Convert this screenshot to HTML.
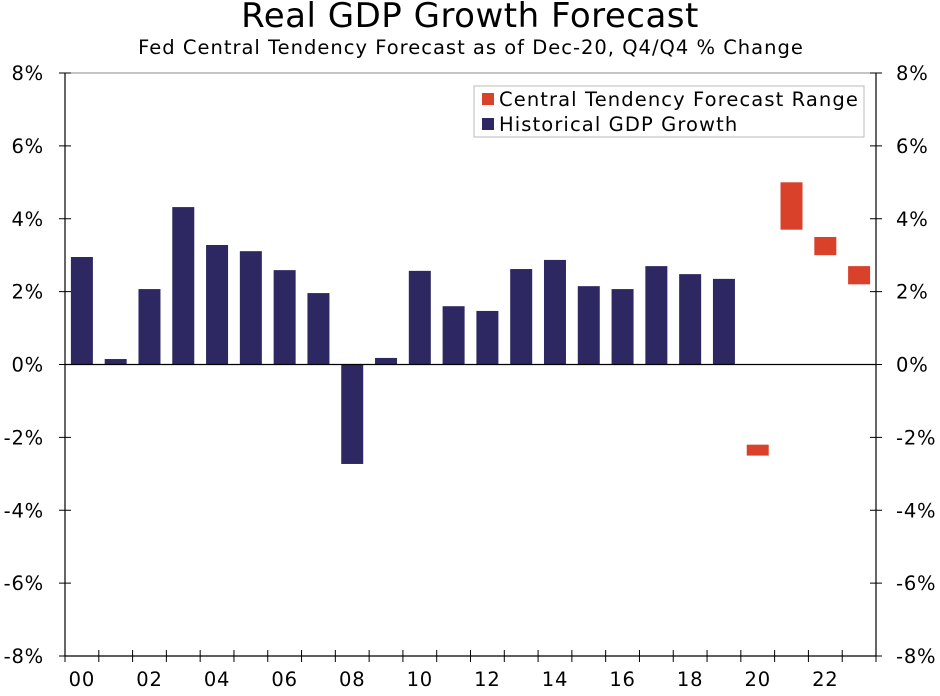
<!DOCTYPE html>
<html><head><meta charset="utf-8"><style>
body{margin:0;background:#fff;font-family:"DejaVu Sans","Liberation Sans",sans-serif;}
svg text{font-family:"DejaVu Sans","Liberation Sans",sans-serif;fill:#000;}
</style></head><body>
<svg id="chart" width="940" height="692" xmlns="http://www.w3.org/2000/svg">
<text x="470" y="27" font-size="34" letter-spacing="0.5" text-anchor="middle">Real GDP Growth Forecast</text>
<text x="471" y="54" font-size="19.5" letter-spacing="1" text-anchor="middle">Fed Central Tendency Forecast as of Dec-20, Q4/Q4 % Change</text>
<g id="plot"></g>
<g>
<rect x="474" y="86" width="390" height="51" fill="#fff" stroke="#bbb"/>
<rect x="482" y="93" width="12" height="12" fill="#d9412b"/>
<text x="499" y="106" font-size="19.5" letter-spacing="1.1">Central Tendency Forecast Range</text>
<rect x="482" y="118" width="12" height="12" fill="#2e2862"/>
<text x="499" y="131" font-size="19.5" letter-spacing="1.1">Historical GDP Growth</text>
</g>
</svg>
<script>
const years=[2000,2001,2002,2003,2004,2005,2006,2007,2008,2009,2010,2011,2012,2013,2014,2015,2016,2017,2018,2019,2020,2021,2022,2023];
const histValues=[2.95,0.15,2.07,4.32,3.28,3.11,2.59,1.96,-2.73,0.18,2.57,1.6,1.47,2.62,2.87,2.15,2.07,2.7,2.48,2.35];
const fcYears=[2020,2021,2022,2023];
const fcLow=[-2.5,3.7,3.0,2.2];
const fcHigh=[-2.2,5.0,3.5,2.7];
const yTicks=[8,6,4,2,0,-2,-4,-6,-8];
const xLabelYears=[2000,2002,2004,2006,2008,2010,2012,2014,2016,2018,2020,2022];

const NS="http://www.w3.org/2000/svg";
const L=65,R=876,T=73,B=656,yMax=8,yMin=-8;
const step=(R-L)/years.length;
const y=v=>T+(yMax-v)/(yMax-yMin)*(B-T);
const xc=yr=>L+(years.indexOf(yr)+0.5)*step;
const g=document.getElementById('plot');
function mk(tag,attrs){const e=document.createElementNS(NS,tag);for(const k in attrs)e.setAttribute(k,attrs[k]);g.appendChild(e);return e;}
let e;
e=mk('line',{x1:L,y1:T,x2:R,y2:T,stroke:'#888','stroke-width':1});


e=mk('line',{x1:L,y1:T,x2:L,y2:B,stroke:'#000','stroke-width':1.2});


e=mk('line',{x1:R,y1:T,x2:R,y2:B,stroke:'#000','stroke-width':1.2});


yTicks.forEach(t=>{
 const yy=y(t);
 e=mk('line',{x1:L-6,y1:yy,x2:L+6,y2:yy,stroke:'#000'});
 
 
 e=mk('line',{x1:R-6,y1:yy,x2:R+6,y2:yy,stroke:'#000'});
 
 
 e=mk('text',{x:L-21,y:yy+7,'font-size':19.5,'letter-spacing':0.8,'text-anchor':'end'});e.textContent=t+'%';
 
 
 e=mk('text',{x:R+20,y:yy+7,'font-size':19.5,'letter-spacing':0.8,'text-anchor':'start'});e.textContent=t+'%';
 
 
});
const bw=22;
histValues.forEach((v,i)=>{
 const cx=xc(years[i]);
 e=mk('rect',{x:cx-bw/2,y:Math.min(y(v),y(0)),width:bw,height:Math.abs(y(v)-y(0)),fill:'#2e2862'});
 
 
});
fcYears.forEach((yr,i)=>{
 const cx=xc(yr);
 e=mk('rect',{x:cx-bw/2,y:y(fcHigh[i]),width:bw,height:y(fcLow[i])-y(fcHigh[i]),fill:'#d9412b'});
 
 
});
e=mk('line',{x1:L,y1:y(0),x2:R,y2:y(0),stroke:'#000','stroke-width':1.2});


e=mk('line',{x1:L,y1:B,x2:R,y2:B,stroke:'#000','stroke-width':1.2});


for(let i=0;i<=years.length;i++){
 const xx=L+i*step;
 e=mk('line',{x1:xx,y1:B-6,x2:xx,y2:B+6,stroke:'#000'});
 
 
}
xLabelYears.forEach(yr=>{
 e=mk('text',{x:xc(yr),y:B+30,'font-size':19.5,'letter-spacing':0.8,'text-anchor':'middle'});
 e.textContent=String(yr%100).padStart(2,'0');
 
 
});
</script>
</body></html>
